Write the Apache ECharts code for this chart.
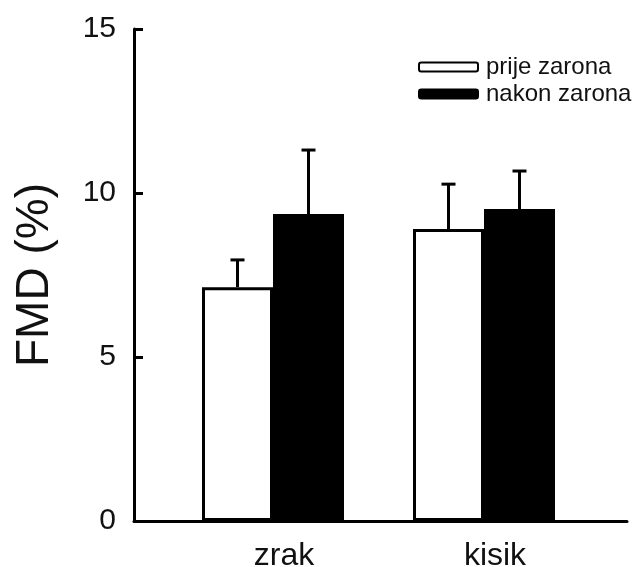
<!DOCTYPE html>
<html>
<head>
<meta charset="utf-8">
<script src="https://cdn.jsdelivr.net/npm/echarts@6/dist/echarts.min.js"></script>
<style>
  html, body { margin: 0; padding: 0; background: #fff; }
  #chart { width: 637px; height: 567px; }
</style>
</head>
<body>
<div id="chart"></div>
<script>
// podaci
var categories = ['zrak', 'kisik']
var seriesNames = ['prije zarona', 'nakon zarona']
var prijeValues = [7.13, 8.9]
var prijeErr = [0.83, 1.37]
var nakonValues = [9.36, 9.51]
var nakonErr = [1.95, 1.16]
var yTicks = [0, 5, 10, 15]

var FONT = 'Arial, "Liberation Sans", sans-serif'
var BAR_W = 71

var chart = echarts.init(document.getElementById('chart'))

// error bar (samo prema gore)
function errorBar(offset) {
  return function (params, api) {
    var x = api.value(0)
    var top = api.coord([x, api.value(1) + api.value(2)])
    var base = api.coord([x, api.value(1)])
    var cx = base[0] + offset
    return {
      type: 'group',
      children: [{
        type: 'line',
        shape: { x1: cx, y1: base[1], x2: cx, y2: top[1] },
        style: { stroke: '#000', lineWidth: 3 }
      }, {
        type: 'line',
        shape: { x1: cx - 7, y1: top[1], x2: cx + 7, y2: top[1] },
        style: { stroke: '#000', lineWidth: 3 }
      }]
    }
  }
}

function errData(vals, errs) {
  return vals.map(function (v, i) { return [i, v, errs[i]] })
}

var option = {
  backgroundColor: '#fff',
  animation: false,
  textStyle: { fontFamily: FONT },
  legend: {
    orient: 'vertical',
    left: 413,
    top: 50,
    itemWidth: 59,
    itemHeight: 9,
    itemGap: 3,
    selectedMode: false,
    data: seriesNames,
    textStyle: { fontSize: 24, color: '#111', fontFamily: FONT, padding: [0, 0, 0, 3] }
  },
  grid: [
    { left: 167.5, right: 47.5, top: 29, bottom: 46, outerBoundsMode: 'none' },
    { left: 134, right: 10, top: 29, bottom: 46, outerBoundsMode: 'none' }
  ],
  xAxis: [{
    type: 'category',
    gridIndex: 0,
    data: categories,
    axisLine: { show: false },
    axisTick: { show: false },
    axisLabel: { fontSize: 32, color: '#111', margin: 19, padding: [0, 0, 0, 22], fontFamily: FONT }
  }, {
    type: 'value',
    gridIndex: 1,
    min: 0,
    max: 1,
    axisLine: { show: true, lineStyle: { color: '#000', width: 3 } },
    axisTick: { show: false },
    axisLabel: { show: false },
    splitLine: { show: false }
  }],
  yAxis: [{
    type: 'value',
    gridIndex: 0,
    min: yTicks[0],
    max: yTicks[yTicks.length - 1],
    interval: 5,
    show: false
  }, {
    type: 'value',
    gridIndex: 1,
    min: yTicks[0],
    max: yTicks[yTicks.length - 1],
    interval: 5,
    name: 'FMD (%)',
    nameLocation: 'middle',
    nameGap: 76,
    nameTextStyle: { fontSize: 46, color: '#111', fontFamily: FONT },
    axisLine: { show: true, lineStyle: { color: '#000', width: 3 } },
    axisTick: { show: true, inside: true, length: 9, lineStyle: { color: '#000', width: 3 } },
    axisLabel: { fontSize: 30, color: '#111', margin: 18, fontFamily: FONT },
    splitLine: { show: false }
  }],
  series: [{
    name: seriesNames[0],
    type: 'bar',
    xAxisIndex: 0,
    yAxisIndex: 0,
    barWidth: BAR_W,
    barGap: '0%',
    itemStyle: { color: '#fff', borderColor: '#000', borderWidth: 3 },
    data: prijeValues
  }, {
    name: seriesNames[1],
    type: 'bar',
    xAxisIndex: 0,
    yAxisIndex: 0,
    barWidth: BAR_W,
    barGap: '0%',
    itemStyle: { color: '#000', borderColor: '#000', borderWidth: 3 },
    data: nakonValues
  }, {
    type: 'custom',
    xAxisIndex: 0,
    yAxisIndex: 0,
    renderItem: errorBar(-BAR_W / 2),
    encode: { x: 0, y: 1 },
    z: 1,
    data: errData(prijeValues, prijeErr)
  }, {
    type: 'custom',
    xAxisIndex: 0,
    yAxisIndex: 0,
    renderItem: errorBar(BAR_W / 2),
    encode: { x: 0, y: 1 },
    z: 1,
    data: errData(nakonValues, nakonErr)
  }]
}

chart.setOption(option)
</script>
</body>
</html>
